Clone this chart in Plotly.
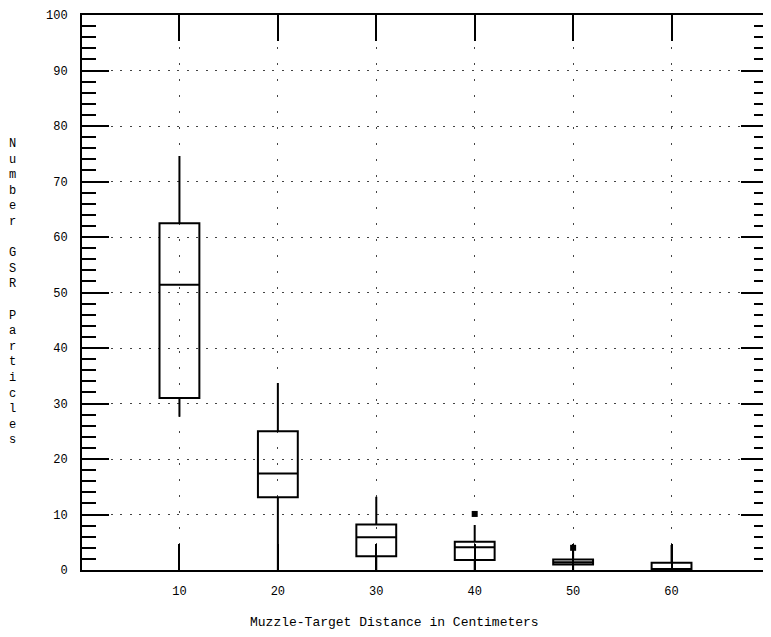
import plotly.graph_objects as go

# Data
distances = [10, 20, 30, 40, 50, 60]
lower_whisker = [27.6, 0.0, 0.0, 0.0, 0.0, 0.0]
q1_vals = [31.0, 13.1, 2.5, 1.8, 1.0, 0.0]
median_vals = [51.4, 17.4, 5.9, 4.1, 1.4, 0.0]
q3_vals = [62.5, 25.0, 8.2, 5.1, 1.9, 1.3]
upper_whisker = [74.6, 33.7, 13.2, 8.1, 3.5, 4.5]
outlier_x = [40, 50]
outlier_y = [10.1, 4.0]

y_ticks = [0, 10, 20, 30, 40, 50, 60, 70, 80, 90, 100]
x_ticks = [10, 20, 30, 40, 50, 60]
x_title = "Muzzle-Target Distance in Centimeters"
y_title = "Number GSR Particles"

FONT = "Liberation Mono, DejaVu Sans Mono, monospace"

fig = go.Figure()
fig.add_trace(go.Box(
    x=distances,
    q1=q1_vals,
    median=median_vals,
    q3=q3_vals,
    lowerfence=lower_whisker,
    upperfence=upper_whisker,
    width=4.05,
    whiskerwidth=0,
    boxpoints=False,
    line=dict(color="black", width=2),
    fillcolor="rgba(0,0,0,0)",
    showlegend=False,
))
fig.add_trace(go.Scatter(
    x=outlier_x, y=outlier_y, mode="markers",
    marker=dict(symbol="square", size=6, color="black"),
    showlegend=False,
))

fig.update_xaxes(
    range=[0.1, 69.8],
    tickvals=x_ticks,
    ticktext=[str(v) for v in x_ticks],
    ticks="inside", ticklen=26, tickwidth=2, tickcolor="black",
    showline=True, linecolor="black", linewidth=2, mirror="ticks",
    showgrid=True, gridcolor="#444", gridwidth=1, griddash="2px,14px",
    zeroline=False,
    tickfont=dict(family=FONT, size=12, color="black"),
    ticklabelstandoff=9,
)
fig.update_yaxes(
    range=[0, 100],
    tickvals=y_ticks,
    ticktext=[str(v) for v in y_ticks],
    ticks="inside", ticklen=27, tickwidth=2, tickcolor="black",
    minor=dict(dtick=2, ticks="inside", ticklen=14, tickwidth=2, tickcolor="black", showgrid=False),
    showline=True, linecolor="black", linewidth=2, mirror="ticks",
    showgrid=True, gridcolor="#444", gridwidth=1, griddash="2px,7.5px",
    zeroline=False,
    tickfont=dict(family=FONT, size=12, color="black"),
    ticklabelstandoff=10,
)

fig.add_annotation(
    text=x_title, xref="paper", yref="paper",
    x=0.455, y=-0.094, xanchor="center", yanchor="middle",
    showarrow=False, font=dict(family=FONT, size=13, color="black"),
)
fig.add_annotation(
    text="<br>".join(list(y_title)), xref="paper", yref="paper",
    x=-0.102, y=0.501, xanchor="center", yanchor="middle",
    showarrow=False, font=dict(family=FONT, size=12, color="black"),
)

fig.update_layout(
    width=763, height=629,
    margin=dict(l=74, r=1, t=7, b=67),
    paper_bgcolor="white", plot_bgcolor="white",
    font=dict(family=FONT, color="black"),
)

fig.write_html("out.html")
